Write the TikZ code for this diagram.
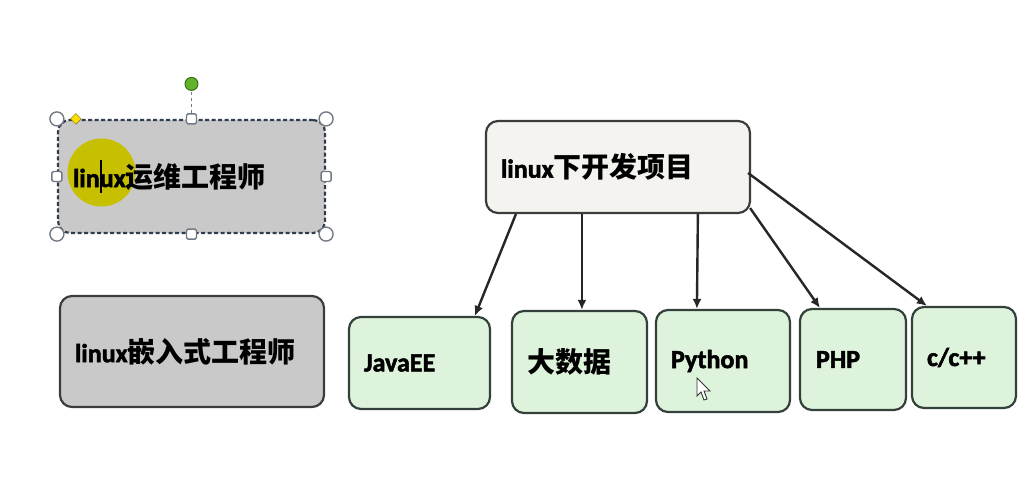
\documentclass[tikz,border=0pt]{standalone}
\usepackage{fontspec}
\setmainfont{Carlito}[BoldFont={Carlito Bold}, BoldFeatures={FakeBold=2}]
\newfontfamily\cjkfont{Noto Sans CJK SC}
\newcommand\cjk{\cjkfont\fontsize{28}{30}\selectfont}
\usetikzlibrary{arrows.meta,calc,shapes.geometric}
\definecolor{grayfill}{HTML}{C9C9C9}
\definecolor{topfill}{HTML}{F4F3EF}
\definecolor{greenfill}{HTML}{DEF3DC}
\definecolor{border}{HTML}{3C3C3C}
\definecolor{gborder}{HTML}{34403A}
\definecolor{selborder}{HTML}{2E3C4C}
\definecolor{hilite}{HTML}{C6C000}
\definecolor{handle}{HTML}{707A86}
\definecolor{rotgreen}{HTML}{62B22A}
\begin{document}
\begin{tikzpicture}[x=1pt,y=-1pt,
  box/.style={rectangle, rounded corners=12pt, line width=2.2pt, draw=border,
    inner xsep=15pt, inner ysep=0pt, align=left,
    font=\fontsize{26}{30}\selectfont\bfseries},
  graybox/.style={box, fill=grayfill},
  topbox/.style={box, fill=topfill},
  greenbox/.style={box, fill=greenfill, draw=gborder},
  arr/.style={line width=2.4pt, draw=black!85, -{Latex[length=10pt,width=9pt]}},
  cornerhandle/.style={circle, draw=handle, fill=white, line width=1.4pt, minimum size=14pt, inner sep=0pt},
  sidehandle/.style={rectangle, rounded corners=1.5pt, draw=handle, fill=white, line width=1.4pt, minimum size=10pt, inner sep=0pt}]
\useasboundingbox[fill=white] (0,0) rectangle (1032,481);

% left boxes
\node[graybox, draw=selborder, dash pattern=on 4pt off 2.5pt, text width=237pt, minimum height=113pt,
  path picture={\fill[hilite] ($(path picture bounding box.west)+(43.5,-4)$) circle (34pt);}]
  (ops) at (191.5,176.5) {linux{\cjk 运维工程师}};
\node[graybox, text width=234pt, minimum height=111pt] (emb) at (192,351.5) {linux{\cjk 嵌入式工程师}};

% text cursor in the selected box
\draw[line width=1.4pt, black] ($(ops.west)+(44,-16)$) coordinate (cur1) -- ($(ops.west)+(44,16)$) coordinate (cur2);

% selection handles
\coordinate (rot) at ($(ops.north)+(0,-35)$);
\draw[dashed, line width=1.4pt, handle] (ops.north) -- (rot);
\node[circle, draw=rotgreen!60!black, fill=rotgreen, minimum size=13pt, inner sep=0pt, line width=1pt] (roth) at (rot) {};
\foreach \a in {north west, north east, south west, south east}
  \node[cornerhandle] at (ops.\a) {};
\foreach \a in {north, south, west, east}
  \node[sidehandle] at (ops.\a) {};
\node[diamond, draw=olive!80!black, fill=yellow!80!orange, minimum size=11pt, inner sep=0pt, shape aspect=1] (adj) at ($(ops.north west)+(19,0)$) {};

% top box
\node[topbox, text width=234pt, minimum height=92pt] (top) at (618,167) {linux{\cjk 下开发项目}};

% bottom boxes
\node[greenbox, text width=111pt, minimum height=92pt] (java) at (419.5,363) {JavaEE};
\node[greenbox, text width=105pt, minimum height=102pt] (big) at (579.5,362) {\cjk 大数据};
\node[greenbox, text width=104pt, minimum height=102pt] (py) at (723,361) {Python};
\node[greenbox, text width=74pt, minimum height=101pt, inner xsep=16pt] (php) at (853,359.5) {PHP};
\node[greenbox, text width=74pt, minimum height=101pt] (cpp) at (964,357.5) {c/c++};

% connectors
\draw[arr] ($(top.south west)+(31,0)$) -- ($(java.north west)+(127,0)$);
\draw[arr] ($(top.south west)+(97,0)$) -- ($(big.north west)+(71,0)$);
\draw[arr] ($(top.south west)+(213,0)$) -- ($(py.north west)+(42,0)$);
\draw[arr] ($(top.south east)+(-1,-6)$) -- ($(php.north west)+(21,0)$);
\draw[arr] ($(top.east)+(-3,6)$) -- ($(cpp.north west)+(16,0)$);

% mouse pointer
\draw[draw=black!80, fill=white, line width=0.9pt] (697,378) -- (697,396) -- (701,392) -- (704,400) -- (707,399) -- (704,391) -- (710,391) -- cycle;
\end{tikzpicture}
\end{document}
